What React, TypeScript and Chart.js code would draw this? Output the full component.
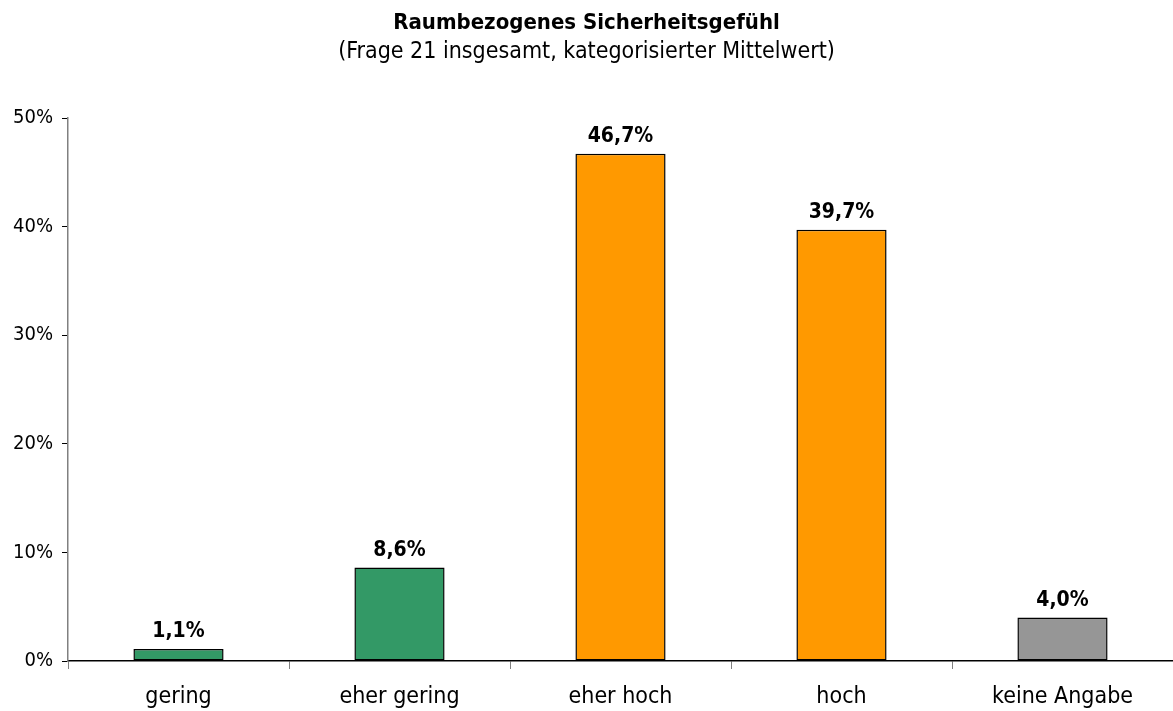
import React, { useEffect, useRef } from "react";
import { Chart, registerables } from "chart.js";

Chart.register(...registerables);

const categories = ["gering", "eher gering", "eher hoch", "hoch", "keine Angabe"];
const values = [1.1, 8.6, 46.7, 39.7, 4.0];
const barColors = ["#339966", "#339966", "#FF9900", "#FF9900", "#969696"];
const yTicks = [0, 10, 20, 30, 40, 50];
const titleText = "Raumbezogenes Sicherheitsgefühl";
const subtitleText = "(Frage 21 insgesamt, kategorisierter Mittelwert)";

const FONT = "'DejaVu Sans Condensed', 'DejaVu Sans', sans-serif";

const valueLabels = {
  id: "valueLabels",
  afterDatasetsDraw(chart: any) {
    const ctx = chart.ctx;
    const meta = chart.getDatasetMeta(0);
    ctx.save();
    ctx.font = `bold 21px ${FONT}`;
    ctx.fillStyle = "#000";
    ctx.textAlign = "center";
    ctx.textBaseline = "alphabetic";
    meta.data.forEach((bar: any, i: number) => {
      const v = values[i];
      ctx.fillText(v.toFixed(1).replace(".", ",") + "%", bar.x, bar.y - 12);
    });
    ctx.restore();
  },
};

export default function App() {
  const ref = useRef<HTMLCanvasElement>(null);
  useEffect(() => {
    if (!ref.current) return;
    const chart = new Chart(ref.current, {
      type: "bar",
      data: {
        labels: categories,
        datasets: [
          {
            data: values,
            backgroundColor: barColors,
            borderColor: "#000",
            borderWidth: 1.5,
            borderSkipped: false,
            barPercentage: 0.408,
            categoryPercentage: 1,
          },
        ],
      },
      options: {
        responsive: false,
        animation: false,
        layout: { padding: { top: 0, right: 0, left: 0, bottom: 0 } },
        plugins: {
          legend: { display: false },
          tooltip: { enabled: false },
          title: {
            display: true,
            text: titleText,
            color: "#000",
            font: { family: FONT, size: 22, weight: "bold" },
            padding: { top: 10, bottom: 2 },
          },
          subtitle: {
            display: true,
            text: subtitleText,
            color: "#000",
            font: { family: FONT, size: 23, weight: "normal" },
            padding: { top: 0, bottom: 52 },
          },
        },
        scales: {
          x: {
            grid: {
              display: true,
              drawOnChartArea: false,
              offset: true,
              tickLength: 8,
              color: "#808080",
            },
            border: { display: true, color: "#000", width: 1.5 },
            ticks: {
              color: "#000",
              font: { family: FONT, size: 23 },
              padding: 14,
            },
            afterFit: (s: any) => {
              s.height = 50;
            },
          },
          y: {
            min: 0,
            max: 50,
            afterBuildTicks: (s: any) => {
              s.ticks = yTicks.map((v) => ({ value: v }));
            },
            grid: {
              display: true,
              drawOnChartArea: false,
              tickLength: 6,
              color: "#000",
            },
            border: { display: true, color: "#808080", width: 1.5 },
            ticks: {
              color: "#000",
              font: { family: FONT, size: 20 },
              padding: 9,
              callback: (v: any) => v + "%",
            },
            afterFit: (s: any) => {
              s.width = 68;
            },
          },
        },
      },
      plugins: [valueLabels],
    });
    return () => chart.destroy();
  }, []);
  return (
    <div style={{ position: "fixed", left: 0, top: 0, width: 1173, height: 711, background: "#fff" }}>
      <canvas ref={ref} width={1173} height={711} style={{ width: 1173, height: 711 }} />
    </div>
  );
}
